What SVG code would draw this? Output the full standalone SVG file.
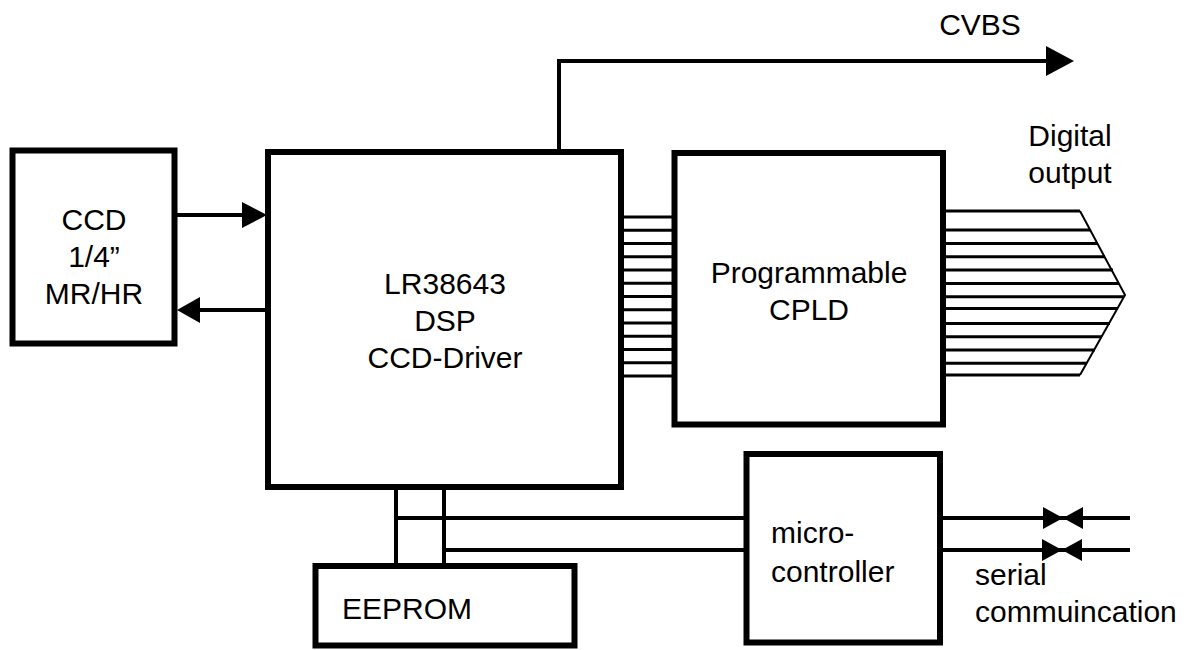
<svg xmlns="http://www.w3.org/2000/svg" width="1202" height="650" viewBox="0 0 1202 650">
<style>
.box{fill:#fff;stroke:#000;stroke-width:6}
.w{fill:none;stroke:#000;stroke-width:4}
.bus{fill:none;stroke:#000;stroke-width:3}
.thin{fill:none;stroke:#000;stroke-width:2}
.t{font-family:"Liberation Sans",Arial,sans-serif;font-size:30px;fill:#000}
.c{text-anchor:middle}
</style>
<defs>
<marker id="ah" markerWidth="8" markerHeight="8" refX="7" refY="4" orient="auto" markerUnits="userSpaceOnUse" viewBox="0 0 8 8">
<path d="M0,0 L8,4 L0,8 Z" fill="#000"/>
</marker>
</defs>
<rect width="1202" height="650" fill="#fff"/>
<g id="connectors">
<path class="w" d="M559,152 V61 H1048"/>
<path d="M1046,46 L1074,61 L1046,76 Z"/>
<line class="w" x1="176" y1="215" x2="244" y2="215"/>
<path d="M242,202 L267,215 L242,228 Z"/>
<line class="w" x1="266" y1="310" x2="198" y2="310"/>
<path d="M200,297 L177,310 L200,323 Z"/>
<g class="bus">
<line x1="621" y1="217" x2="675" y2="217"/>
<line x1="621" y1="230.3" x2="675" y2="230.3"/>
<line x1="621" y1="243.5" x2="675" y2="243.5"/>
<line x1="621" y1="256.8" x2="675" y2="256.8"/>
<line x1="621" y1="270" x2="675" y2="270"/>
<line x1="621" y1="283.3" x2="675" y2="283.3"/>
<line x1="621" y1="296.5" x2="675" y2="296.5"/>
<line x1="621" y1="309.8" x2="675" y2="309.8"/>
<line x1="621" y1="323" x2="675" y2="323"/>
<line x1="621" y1="336.3" x2="675" y2="336.3"/>
<line x1="621" y1="349.5" x2="675" y2="349.5"/>
<line x1="621" y1="362.8" x2="675" y2="362.8"/>
<line x1="621" y1="376" x2="675" y2="376"/>
</g>
<g class="bus">
<line x1="943" y1="211" x2="1080" y2="211"/>
<line x1="943" y1="230" x2="1090" y2="230"/>
<line x1="943" y1="243.5" x2="1097" y2="243.5"/>
<line x1="943" y1="256.8" x2="1105" y2="256.8"/>
<line x1="943" y1="270" x2="1113" y2="270"/>
<line x1="943" y1="283.5" x2="1119" y2="283.5"/>
<line x1="943" y1="296.8" x2="1124" y2="296.8"/>
<line x1="943" y1="308.5" x2="1118" y2="308.5"/>
<line x1="943" y1="323.5" x2="1110" y2="323.5"/>
<line x1="943" y1="336.8" x2="1102" y2="336.8"/>
<line x1="943" y1="350" x2="1095" y2="350"/>
<line x1="943" y1="363.3" x2="1087" y2="363.3"/>
<line x1="943" y1="375" x2="1080" y2="375"/>
</g>
<path class="thin" d="M1080,211 L1125,295 L1080,375"/>
<path class="w" d="M396,487 V566 M444,487 V566 M396,518 H747 M444,550 H747"/>
<path class="w" d="M940,518 H1130 M940,550 H1130"/>
<path d="M1043,507 L1063,518 L1043,529 Z M1083,507 L1063,518 L1083,529 Z"/>
<path d="M1042,539 L1062,550 L1042,561 Z M1082,539 L1062,550 L1082,561 Z"/>
</g>
<g id="ccd">
<rect class="box" x="12.5" y="150.5" width="162" height="193"/>
<text class="t c" x="94" y="230">CCD</text>
<text class="t c" x="94" y="267">1/4”</text>
<text class="t c" x="94" y="304">MR/HR</text>
</g>
<g id="dsp">
<rect class="box" x="268" y="152" width="353" height="335"/>
<text class="t c" x="445" y="294">LR38643</text>
<text class="t c" x="445" y="331">DSP</text>
<text class="t c" x="445" y="368">CCD-Driver</text>
</g>
<g id="cpld">
<rect class="box" x="674.5" y="153" width="268.5" height="271.5"/>
<text class="t c" x="809" y="283">Programmable</text>
<text class="t c" x="809" y="320">CPLD</text>
</g>
<g id="eeprom">
<rect class="box" x="315.5" y="566" width="259" height="79.5"/>
<text class="t" x="342" y="619">EEPROM</text>
</g>
<g id="micro">
<rect class="box" x="746.5" y="454" width="193.5" height="188.5"/>
<text class="t" x="771" y="543">micro-</text>
<text class="t" x="771" y="582">controller</text>
</g>
<g id="labels">
<text class="t c" x="980" y="35">CVBS</text>
<text class="t c" x="1070" y="146">Digital</text>
<text class="t c" x="1070" y="183">output</text>
<text class="t" x="975" y="585">serial</text>
<text class="t" x="975" y="622">commuincation</text>
</g>
</svg>
